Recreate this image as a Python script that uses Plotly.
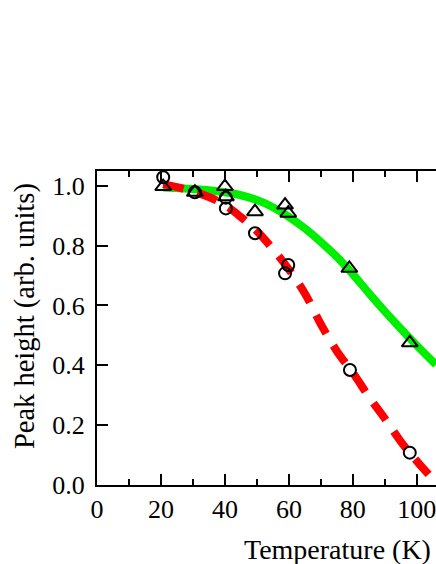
import plotly.graph_objects as go

# fitted curves
green_T = [20.7, 25, 30, 35, 40, 45, 50, 55, 60, 65, 70, 75, 80, 85, 90, 95, 100, 106]
green_y = [0.994, 0.992, 0.989, 0.985, 0.978, 0.968, 0.952, 0.928, 0.896, 0.857, 0.812, 0.762, 0.704, 0.641, 0.580, 0.522, 0.466, 0.402]

red_T = [20.7, 25, 30, 35, 40, 45, 50, 55, 60, 65, 70, 75, 80, 85, 90, 95, 100, 106]
red_y = [1.005, 0.995, 0.98, 0.962, 0.935, 0.895, 0.848, 0.788, 0.72, 0.64, 0.537, 0.447, 0.375, 0.295, 0.222, 0.145, 0.08, 0.008]

# measured points
circ_T = [20.7, 30.6, 40.3, 40.3, 49.4, 58.8, 59.8, 79.1, 97.8]
circ_y = [1.028, 0.978, 0.96, 0.924, 0.841, 0.707, 0.735, 0.384, 0.108]

tri_T = [20.7, 30.6, 40.0, 40.3, 49.4, 58.8, 59.8, 78.9, 97.8]
tri_y = [0.997, 0.978, 0.997, 0.963, 0.913, 0.935, 0.908, 0.724, 0.475]

fnt = "Liberation Serif"

fig = go.Figure()
fig.add_trace(go.Scatter(x=green_T, y=green_y, mode="lines", line=dict(color="#00ee00", width=8, shape="spline")))
fig.add_trace(go.Scatter(x=red_T, y=red_y, mode="lines", line=dict(color="#ff0000", width=8, shape="spline", dash="21px,14px")))
fig.add_trace(go.Scatter(x=circ_T, y=circ_y, mode="markers", cliponaxis=False,
                         marker=dict(symbol="circle-open", size=12, color="black", line=dict(width=2, color="black"))))
fig.add_trace(go.Scatter(x=tri_T, y=tri_y, mode="markers", cliponaxis=False,
                         marker=dict(symbol="triangle-up-open", size=14, color="black", line=dict(width=2, color="black"))))

fig.update_layout(
    width=436, height=564,
    margin=dict(l=97, r=0, t=171, b=79),
    plot_bgcolor="white", paper_bgcolor="white",
    showlegend=False,
    font=dict(family=fnt, size=26, color="black"),
    xaxis=dict(range=[0, 106], tickvals=[0, 20, 40, 60, 80, 100], ticks="inside", ticklen=11, tickwidth=2,
               tickcolor="black", showline=True, linewidth=2, linecolor="black", mirror="ticks",
               showgrid=False, zeroline=False, ticklabelstandoff=0, ticklabeloverflow="allow",
               minor=dict(tickvals=[10, 30, 50, 70, 90], ticks="inside", ticklen=6, tickwidth=2, tickcolor="black")),
    yaxis=dict(range=[0, 1.049], tickvals=[0, 0.2, 0.4, 0.6, 0.8, 1.0], tickformat=".1f", ticks="inside",
               ticklen=11, tickwidth=2, tickcolor="black", showline=True, linewidth=2, linecolor="black",
               showgrid=False, zeroline=False, ticklabelstandoff=5),
    annotations=[
        dict(text="Peak height (arb. units)", xref="paper", yref="paper", x=0, y=0.538, xshift=-72,
             xanchor="center", yanchor="middle", textangle=-90, showarrow=False, font=dict(size=28.5)),
        dict(text="Temperature (K)", xref="paper", yref="paper", x=0.99, y=-0.205,
             xanchor="right", yanchor="middle", showarrow=False, font=dict(size=28)),
    ],
)

# page body has a default margin; drop it so the figure sits at the window corner
fig.write_html("out.html", config={"displayModeBar": False},
               post_script="document.body.style.margin='0';")
